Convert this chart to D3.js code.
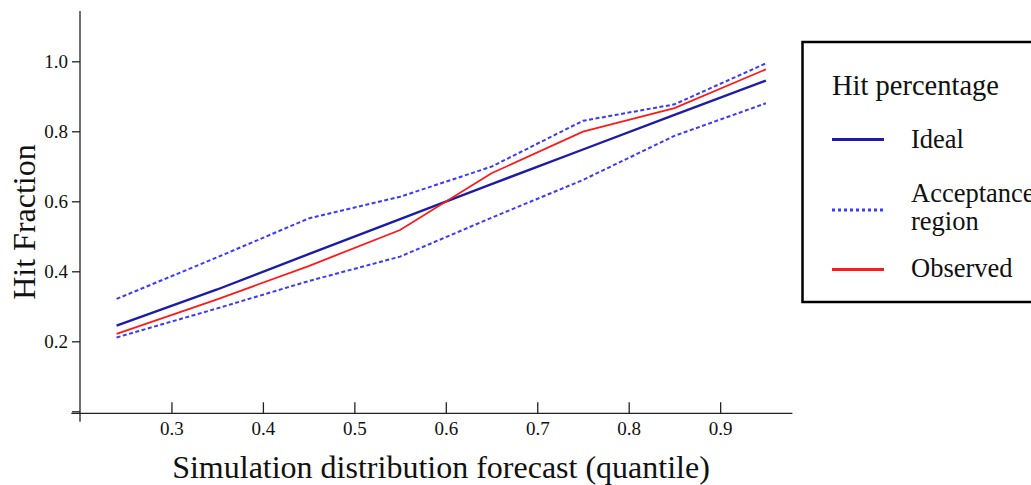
<!DOCTYPE html>
<html>
<head>
<meta charset="utf-8">
<script src="https://cdn.jsdelivr.net/npm/d3@7"></script>
<style>
  body { margin: 0; background: #fff; }
  svg { display: block; font-family: 'Liberation Serif', 'Times New Roman', serif; }
</style>
</head>
<body>
<svg width="1031" height="485"></svg>
<script>
let quantiles = [0.24, 0.35, 0.45, 0.55, 0.65, 0.75, 0.85, 0.95]
let ideal = [0.245, 0.348, 0.449, 0.549, 0.649, 0.748, 0.847, 0.945]
let upper = [0.321, 0.44, 0.551, 0.613, 0.699, 0.83, 0.877, 0.994]
let lower = [0.211, 0.294, 0.372, 0.442, 0.553, 0.661, 0.787, 0.88]
let observed = [0.221, 0.32, 0.415, 0.518, 0.68, 0.799, 0.866, 0.977]

let xTicks = [0.3, 0.4, 0.5, 0.6, 0.7, 0.8, 0.9]
let yTicks = [0, 0.2, 0.4, 0.6, 0.8, 1.0]

let colIdeal = '#1c1ca8'
let colBand = '#3a3aff'
let colObs = '#ff1a1a'
let serif = "'Liberation Serif', 'Times New Roman', serif"

let svg = d3.select('svg')

let x = d3.scaleLinear().domain([0.2, 1.0]).range([80, 811.6])
let y = d3.scaleLinear().domain([0, 1]).range([411.3, 61.3])

// x axis (ticks pointing up into the plot)
let xAxis = svg.append('g')
  .attr('transform', 'translate(0,413.3)')
  .call(d3.axisBottom(x).tickValues(xTicks).tickSizeInner(-11).tickSizeOuter(0)
    .tickPadding(8).tickFormat(d3.format('.1f')))
xAxis.select('.domain').attr('d', `M${x(0.1905)},0H${x(0.979)}`)

// y axis (ticks outward), zero tick has no label
let yAxis = svg.append('g')
  .attr('transform', `translate(${x(0.2)},0)`)
  .call(d3.axisLeft(y).tickValues(yTicks).tickSize(8).tickPadding(4)
    .tickFormat(d => d === 0 ? '' : d3.format('.1f')(d)))
yAxis.select('.domain').attr('d', `M0,${y(1.144)}V${y(-0.03)}`)

svg.selectAll('g').attr('font-family', serif).attr('font-size', 19)
svg.selectAll('.tick text').attr('fill', '#111')
svg.selectAll('.domain, .tick line').attr('stroke', '#222').attr('stroke-width', 1.3)

// lines
let line = d3.line()
  .x((d, i) => x(quantiles[i]))
  .y(d => y(d))

let series = [
  { vals: upper, color: colBand, width: 2, dash: '4,2.5' },
  { vals: lower, color: colBand, width: 2, dash: '4,2.5' },
  { vals: ideal, color: colIdeal, width: 2.4, dash: null },
  { vals: observed, color: colObs, width: 1.8, dash: null }
]

svg.selectAll('path.series')
  .data(series)
  .enter()
  .append('path')
  .attr('class', 'series')
  .attr('fill', 'none')
  .attr('stroke', d => d.color)
  .attr('stroke-width', d => d.width)
  .attr('stroke-dasharray', d => d.dash)
  .attr('d', d => line(d.vals))

// axis titles
svg.append('text')
  .attr('x', 441)
  .attr('y', 478)
  .attr('text-anchor', 'middle')
  .attr('font-size', 32)
  .attr('fill', '#111')
  .text('Simulation distribution forecast (quantile)')

svg.append('text')
  .attr('transform', 'translate(35,222) rotate(-90)')
  .attr('text-anchor', 'middle')
  .attr('font-size', 32)
  .attr('fill', '#111')
  .text('Hit Fraction')

// legend
let legend = svg.append('g').attr('font-family', serif)
legend.append('rect')
  .attr('x', 802.5)
  .attr('y', 42)
  .attr('width', 260)
  .attr('height', 260)
  .attr('fill', '#fff')
  .attr('stroke', '#000')
  .attr('stroke-width', 2.5)

legend.append('text')
  .attr('x', 832)
  .attr('y', 95)
  .attr('font-size', 28.5)
  .attr('fill', '#111')
  .text('Hit percentage')

let items = [
  { label: ['Ideal'], color: colIdeal, dash: null, ly: 139.5, ty: 148 },
  { label: ['Acceptance', 'region'], color: colBand, dash: '3,3', ly: 210, ty: 202 },
  { label: ['Observed'], color: colObs, dash: null, ly: 269.5, ty: 277 }
]

let item = legend.selectAll('g.item')
  .data(items)
  .enter()
  .append('g')
  .attr('class', 'item')

item.append('line')
  .attr('x1', 832)
  .attr('x2', 884)
  .attr('y1', d => d.ly)
  .attr('y2', d => d.ly)
  .attr('stroke', d => d.color)
  .attr('stroke-width', 3)
  .attr('stroke-dasharray', d => d.dash)

item.append('text')
  .attr('font-size', 26.5)
  .attr('fill', '#111')
  .selectAll('tspan')
  .data(d => d.label.map((t, i) => ({ t, y: d.ty + i * 28 })))
  .enter()
  .append('tspan')
  .attr('x', 911)
  .attr('y', d => d.y)
  .text(d => d.t)
</script>
</body>
</html>
